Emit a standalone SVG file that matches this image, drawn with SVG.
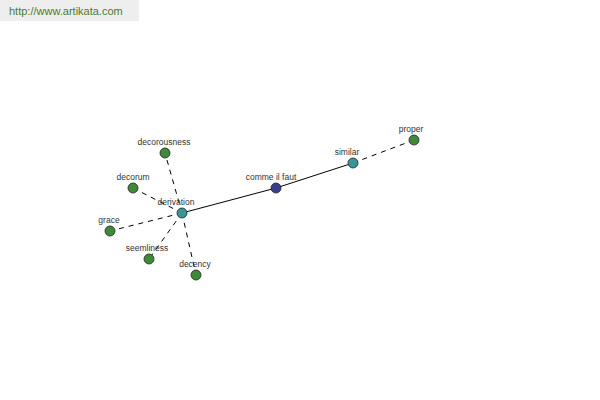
<svg xmlns="http://www.w3.org/2000/svg" width="600" height="400" viewBox="0 0 600 400">
<style>
.lbl{font-family:"Liberation Sans",Arial,sans-serif;font-size:8.5px;fill:#333;text-anchor:middle}
.n{stroke:#222;stroke-width:0.8}
.g{fill:#3f8a3a}
.t{fill:#3a9696}
.b{fill:#3a3f8c}
.s{stroke:#000;stroke-width:1;fill:none}
.d{stroke:#000;stroke-width:1;fill:none;stroke-dasharray:5,5}
</style>
<rect width="600" height="400" fill="#fff"/>
<rect x="0" y="0" width="139" height="21" fill="#eeeeee"/>
<text x="9" y="15" font-family="Liberation Sans,Arial,sans-serif" font-size="11" fill="#4d7a2e">http://www.artikata.com</text>
<g id="connectors">
<line class="s" x1="182" y1="213" x2="276" y2="188"/>
<line class="s" x1="276" y1="188" x2="353" y2="163"/>
<line class="d" x1="353" y1="163" x2="414" y2="140"/>
<line class="d" x1="182" y1="213" x2="165" y2="153"/>
<line class="d" x1="182" y1="213" x2="133" y2="188"/>
<line class="d" x1="182" y1="213" x2="110" y2="231"/>
<line class="d" x1="182" y1="213" x2="149" y2="259"/>
<line class="d" x1="182" y1="213" x2="196" y2="275"/>
</g>
<g id="decorousness"><circle class="n g" cx="165" cy="153" r="5"/><text class="lbl" x="164" y="145">decorousness</text></g>
<g id="decorum"><circle class="n g" cx="133" cy="188" r="5"/><text class="lbl" x="133" y="180">decorum</text></g>
<g id="grace"><circle class="n g" cx="110" cy="231" r="5"/><text class="lbl" x="109" y="223">grace</text></g>
<g id="seemliness"><circle class="n g" cx="149" cy="259" r="5"/><text class="lbl" x="147" y="251">seemliness</text></g>
<g id="decency"><circle class="n g" cx="196" cy="275" r="5"/><text class="lbl" x="195" y="267">decency</text></g>
<g id="derivation"><circle class="n t" cx="182" cy="213" r="5"/><text class="lbl" x="176" y="205">derivation</text></g>
<g id="comme-il-faut"><circle class="n b" cx="276" cy="188" r="5"/><text class="lbl" x="271" y="180">comme il faut</text></g>
<g id="similar"><circle class="n t" cx="353" cy="163" r="5"/><text class="lbl" x="347" y="155">similar</text></g>
<g id="proper"><circle class="n g" cx="414" cy="140" r="5"/><text class="lbl" x="411" y="132">proper</text></g>
</svg>
